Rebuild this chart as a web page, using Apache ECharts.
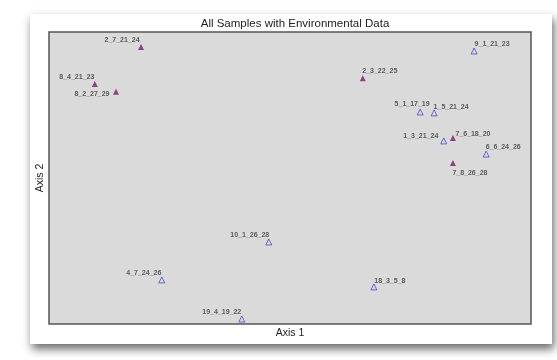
<!DOCTYPE html>
<html><head><meta charset="utf-8">
<script src="https://cdn.jsdelivr.net/npm/echarts@6/dist/echarts.min.js"></script>
<style>html,body{margin:0;padding:0;background:#fff}#c{width:557px;height:360px}</style>
</head><body><div id="c"></div>
<script>
// Sample names, ordination scores and group (1 = filled, 0 = open)
const sampleNames = ["2_7_21_24","8_4_21_23","8_2_27_29","9_1_21_23","2_3_22_25","5_1_17_19","1_5_21_24","1_3_21_24","7_6_18_20","6_6_24_26","7_8_26_28","10_1_26_28","4_7_24_26","18_3_5_8","19_4_19_22"];
const axis1Scores = [19.1, 9.5, 13.9, 88.2, 65.1, 77.0, 79.9, 81.9, 83.8, 90.7, 83.8, 45.6, 23.4, 67.4, 40.0];
const axis2Scores = [94.9, 82.2, 79.5, 93.5, 84.2, 72.6, 72.3, 62.7, 63.7, 58.2, 55.1, 28.1, 15.1, 12.7, 1.7];
const filledGroup = [1,1,1,0,1,0,0,0,1,0,1,0,0,0,0];

// label placement (styling only)
const labelOffsets = [[-19,-7],[-18,-7],[-24,2],[18,-7],[17,-7],[-8,-8],[17,-6],[-23,-5],[20,-4],[17,-7],[17,10],[-19,-7],[-18,-7],[16,-6],[-20,-7]];

function pts(g){
  const out=[];
  for(let i=0;i<sampleNames.length;i++){
    if(filledGroup[i]!==g) continue;
    out.push({name:sampleNames[i], value:[axis1Scores[i],axis2Scores[i]],
      label:{offset:labelOffsets[i]}});
  }
  return out;
}
const labelStyle={show:true,position:'inside',formatter:'{b}',fontSize:7,fontWeight:'bold',color:'#3a3a3a',fontFamily:'Liberation Sans, Arial, sans-serif'};

const chart=echarts.init(document.getElementById('c'));
chart.setOption({
  animation:false,
  backgroundColor:'#fff',
  graphic:[{type:'rect',z:-10,shape:{x:30,y:14,width:522,height:330},
    style:{fill:'#fff',shadowBlur:9,shadowOffsetX:2,shadowOffsetY:5,shadowColor:'rgba(0,0,0,0.6)'}}],
  title:{text:'All Samples with Environmental Data',left:290,top:13,textAlign:'center',
    textStyle:{fontSize:11.5,fontWeight:'normal',color:'#222',fontFamily:'Liberation Sans, Arial, sans-serif'}},
  grid:{left:49,top:32,width:482,height:292,show:true,backgroundColor:'#dadada',borderColor:'#555',borderWidth:1.5},
  xAxis:{type:'value',min:0,max:100,name:'Axis 1',nameLocation:'middle',nameGap:4,
    nameTextStyle:{fontSize:10.5,color:'#222',fontFamily:'Liberation Sans, Arial, sans-serif',verticalAlign:'top'},
    axisLine:{show:false},axisTick:{show:false},axisLabel:{show:false},splitLine:{show:false}},
  yAxis:{type:'value',min:0,max:100,name:'Axis 2',nameLocation:'middle',nameGap:3,
    nameTextStyle:{fontSize:10.5,color:'#222',fontFamily:'Liberation Sans, Arial, sans-serif'},
    axisLine:{show:false},axisTick:{show:false},axisLabel:{show:false},splitLine:{show:false}},
  series:[
    {name:'Filled',type:'scatter',symbol:'triangle',symbolSize:6,data:pts(1),
     itemStyle:{color:'#7a1a6e'},label:labelStyle},
    {name:'Open',type:'scatter',symbol:'triangle',symbolSize:6,data:pts(0),
     itemStyle:{color:'rgba(0,0,0,0)',borderColor:'#4a4ad0',borderWidth:1},label:labelStyle}
  ]
});
</script></body></html>
